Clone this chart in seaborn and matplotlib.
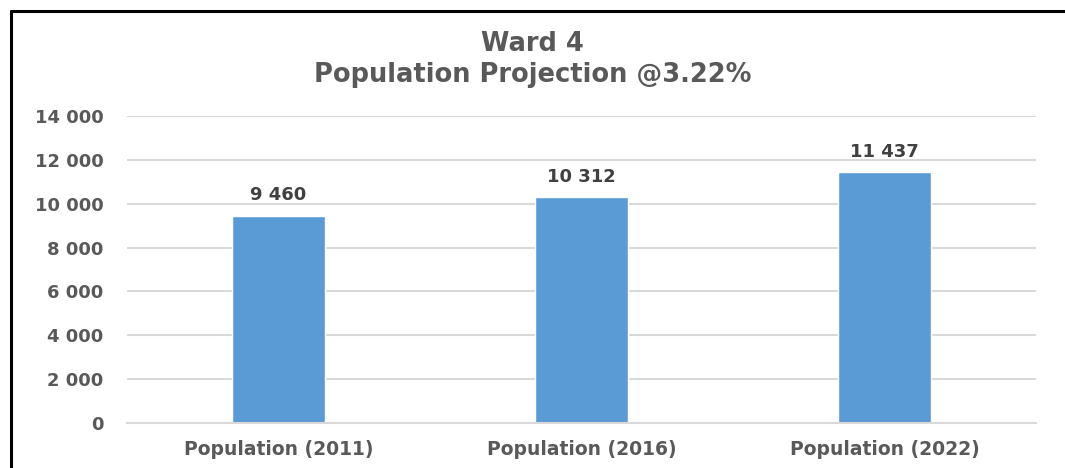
import matplotlib
matplotlib.use("Agg")
import matplotlib.pyplot as plt
import seaborn as sns
import pandas as pd
from matplotlib.lines import Line2D

categories = ["Population (2011)", "Population (2016)", "Population (2022)"]
values = [9460, 10312, 11437]
yticks = [0, 2000, 4000, 6000, 8000, 10000, 12000, 14000]

sns.set_theme(style="white")
plt.rcParams['font.family'] = ['DejaVu Sans']

df = pd.DataFrame({"cat": categories, "val": values})

W, H = 1065, 468
fig = plt.figure(figsize=(W / 100, H / 100), dpi=100)
ax = fig.add_axes([127 / W, 1 - 423 / H, (1036 - 127) / W, (423 - 116) / H])

sns.barplot(data=df, x="cat", y="val", color="#5b9bd5", width=0.31, ax=ax,
            saturation=1, zorder=3)

def fmt(v):
    return f"{v:,}".replace(",", " ")

ax.set_xlim(-0.5, 2.5)
ax.set_ylim(0, 14000)
ax.set_yticks(yticks)
ax.set_yticklabels([fmt(t) for t in yticks], fontsize=13, fontweight="bold", color="#595959")
ax.set_xticks(range(len(categories)))
ax.set_xticklabels(categories, fontsize=13.5, fontweight="bold", color="#595959")
ax.tick_params(axis="both", length=0)
ax.tick_params(axis="y", pad=17)
ax.tick_params(axis="x", pad=12)
ax.set_xlabel("")
ax.set_ylabel("")
ax.grid(axis="y", color="#d9d9d9", linewidth=1.5, zorder=0)
for s in ["top", "right", "left"]:
    ax.spines[s].set_visible(False)
ax.spines["bottom"].set_color("#d9d9d9")
ax.spines["bottom"].set_linewidth(1.5)
ax.spines["bottom"].set_zorder(4)

for i, v in enumerate(values):
    ax.annotate(fmt(v), (i, v), xytext=(0, 8), textcoords="offset points",
                ha="center", va="bottom", fontsize=13, fontweight="bold", color="#404040")

fig.text(0.5, 1 - 44 / H, "Ward 4", ha="center", va="center", fontsize=18.5,
         fontweight="bold", color="#595959")
fig.text(0.5, 1 - 75 / H, "Population Projection @3.22%", ha="center", va="center",
         fontsize=18.5, fontweight="bold", color="#595959")

# black border lines at top and left
fig.add_artist(Line2D([11 / W, 1], [1 - 11 / H, 1 - 11 / H], color="black", linewidth=2.2,
                      transform=fig.transFigure))
fig.add_artist(Line2D([11 / W, 11 / W], [0, 1 - 11 / H], color="black", linewidth=2.2,
                      transform=fig.transFigure))

fig.savefig("out.png", dpi=100)
